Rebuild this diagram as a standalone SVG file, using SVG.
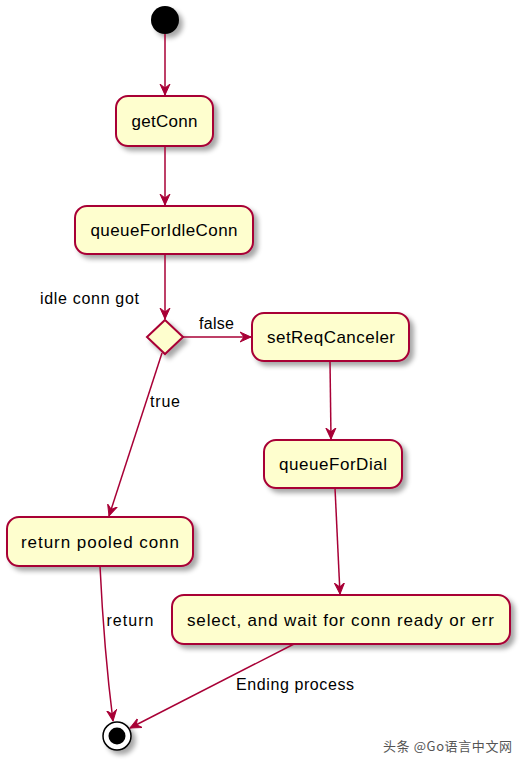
<svg xmlns="http://www.w3.org/2000/svg" width="525" height="766" viewBox="0 0 525 766">
<defs>
<filter id="sh" x="-20%" y="-30%" width="150%" height="170%">
<feGaussianBlur in="SourceAlpha" stdDeviation="2.5"/>
<feOffset dx="4" dy="4" result="b"/>
<feComponentTransfer><feFuncA type="linear" slope="0.35"/></feComponentTransfer>
<feMerge><feMergeNode/><feMergeNode in="SourceGraphic"/></feMerge>
</filter>
<marker id="ah" viewBox="0 0 12 12" refX="11" refY="6" markerWidth="12" markerHeight="12" markerUnits="userSpaceOnUse" orient="auto">
<path d="M0,1 L11,6 L0,11 L4,6 Z" fill="#A80036" stroke="#A80036" stroke-width="1" stroke-linejoin="round"/>
</marker>
</defs>
<style>
.box{fill:#FEFECE;stroke:#A80036;stroke-width:2;}
.t{font-family:"Liberation Sans",Arial,sans-serif;font-size:17px;fill:#000;text-anchor:middle;}
.l{font-family:"Liberation Sans",Arial,sans-serif;font-size:16px;fill:#000;}
.c{fill:none;stroke:#A80036;stroke-width:1.5;}
</style>
<rect width="525" height="766" fill="#fff"/>
<g id="start"><circle cx="165" cy="20" r="14" fill="#000" filter="url(#sh)"/></g>
<g id="getConn"><rect class="box" x="116" y="96" width="97" height="50" rx="12" filter="url(#sh)"/><text class="t" x="164.5" y="127" textLength="66" lengthAdjust="spacing">getConn</text></g>
<g id="queueForIdleConn"><rect class="box" x="75" y="206" width="178" height="48" rx="12" filter="url(#sh)"/><text class="t" x="164" y="236" textLength="147" lengthAdjust="spacing">queueForIdleConn</text></g>
<g id="decision"><polygon class="box" points="165,320 183,337 165,354 147,337" filter="url(#sh)"/></g>
<g id="setReqCanceler"><rect class="box" x="252" y="313" width="157" height="48" rx="12" filter="url(#sh)"/><text class="t" x="331" y="343" textLength="128" lengthAdjust="spacing">setReqCanceler</text></g>
<g id="queueForDial"><rect class="box" x="264" y="440" width="138" height="48" rx="12" filter="url(#sh)"/><text class="t" x="333" y="470" textLength="108" lengthAdjust="spacing">queueForDial</text></g>
<g id="returnPooledConn"><rect class="box" x="7" y="517" width="186" height="49" rx="12" filter="url(#sh)"/><text class="t" x="100" y="548" textLength="158" lengthAdjust="spacing">return pooled conn</text></g>
<g id="selectWait"><rect class="box" x="172" y="595" width="338" height="49" rx="12" filter="url(#sh)"/><text class="t" x="340.5" y="626" textLength="307" lengthAdjust="spacing">select, and wait for conn ready or err</text></g>
<g id="end"><circle cx="117" cy="736" r="14" fill="#fff" stroke="#000" stroke-width="1.5" filter="url(#sh)"/><circle cx="117" cy="736" r="8.5" fill="#000"/></g>
<g id="connectors">
<line class="c" x1="165" y1="34" x2="165" y2="95" marker-end="url(#ah)"/>
<line class="c" x1="165" y1="146" x2="165" y2="205" marker-end="url(#ah)"/>
<line class="c" x1="165" y1="254" x2="165" y2="319" marker-end="url(#ah)"/>
<line class="c" x1="183" y1="337" x2="251" y2="337" marker-end="url(#ah)"/>
<line class="c" x1="330" y1="361" x2="331" y2="439" marker-end="url(#ah)"/>
<line class="c" x1="162" y1="353" x2="109" y2="516" marker-end="url(#ah)"/>
<line class="c" x1="335" y1="488" x2="340" y2="594" marker-end="url(#ah)"/>
<path class="c" d="M100,566 Q104,650 113,721" marker-end="url(#ah)"/>
<line class="c" x1="294" y1="644" x2="130" y2="728" marker-end="url(#ah)"/>
</g>
<g id="labels">
<text class="l" x="40" y="304" textLength="99" lengthAdjust="spacing">idle conn got</text>
<text class="l" x="199" y="329" textLength="35" lengthAdjust="spacing">false</text>
<text class="l" x="150" y="407" textLength="30" lengthAdjust="spacing">true</text>
<text class="l" x="106.5" y="626" textLength="47" lengthAdjust="spacing">return</text>
<text class="l" x="236" y="690" textLength="118" lengthAdjust="spacing">Ending process</text>
</g>
<text x="383" y="751" font-family="'Noto Sans CJK SC',sans-serif" font-size="13" fill="#555" textLength="129" lengthAdjust="spacing">头条 @Go语言中文网</text>
</svg>
